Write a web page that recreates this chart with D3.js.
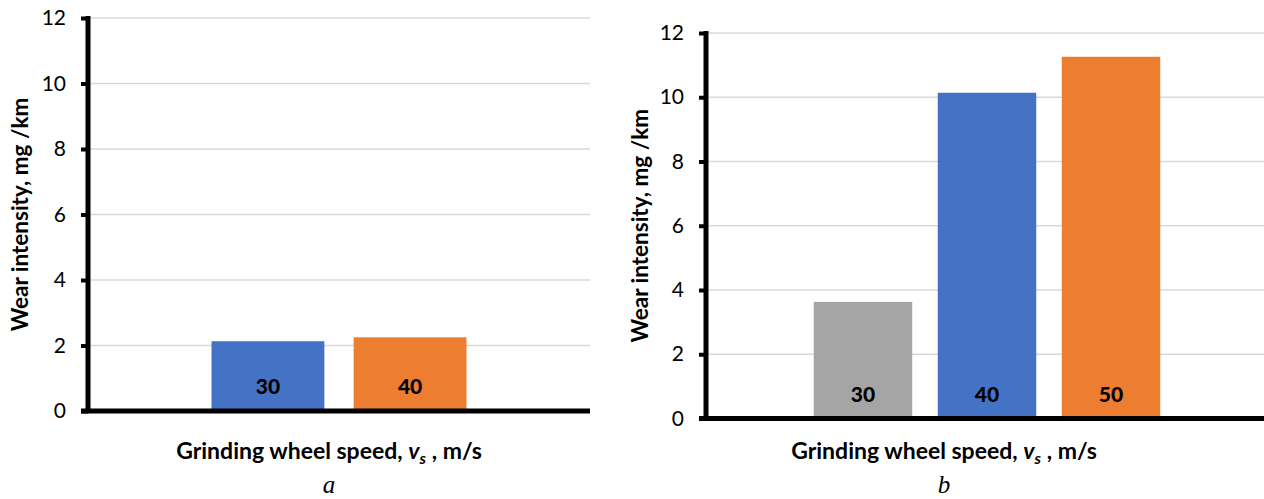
<!DOCTYPE html>
<html><head><meta charset="utf-8">
<script src="https://cdn.jsdelivr.net/npm/d3@7"></script>
<style>body{margin:0;background:#fff}svg{display:block}</style>
</head><body>
<svg id="c" width="1264" height="499"></svg>
<script>
// Data
const categoriesA = ["30", "40"];
const valuesA = [2.13, 2.25];
const colorsA = ["#4472C4", "#ED7D31"];
const categoriesB = ["30", "40", "50"];
const valuesB = [3.63, 10.14, 11.26];
const colorsB = ["#A5A5A5", "#4472C4", "#ED7D31"];
const yTicks = [0, 2, 4, 6, 8, 10, 12];
const yTitle = "Wear intensity, mg /km";
const panelLetters = ["a", "b"];

const svg = d3.select("#c");
const font = "Lato, 'Open Sans', sans-serif";

function panel(cfg) {
  const {cats, vals, cols, left, right, top, bottom, letter, yTitleX, letterX} = cfg;
  const g = svg.append("g");
  const y = d3.scaleLinear().domain([0, 12]).range([bottom, top]);
  const x = d3.scaleBand().domain(cats).range([left, right]).paddingInner(0.206).paddingOuter(0.869);

  // gridlines
  g.append("g").selectAll("line").data(yTicks.filter(d => d > 0)).join("line")
    .attr("x1", left).attr("x2", right)
    .attr("y1", d => y(d)).attr("y2", d => y(d))
    .attr("stroke", "#d9d9d9").attr("stroke-width", 1.6);

  // bars
  g.append("g").selectAll("rect").data(vals).join("rect")
    .attr("x", (d, i) => x(cats[i])).attr("width", x.bandwidth())
    .attr("y", d => y(d)).attr("height", d => y(0) - y(d))
    .attr("fill", (d, i) => cols[i]);

  // value labels (category names inside bars)
  g.append("g").selectAll("text").data(cats).join("text")
    .attr("x", d => x(d) + x.bandwidth() / 2).attr("y", y(0) - 17)
    .attr("text-anchor", "middle")
    .attr("font-family", font).attr("font-weight", 900).attr("font-size", 21)
    .attr("fill", "#000").text(d => d);

  // y axis
  const ax = g.append("g").attr("transform", `translate(${left},0)`)
    .call(d3.axisLeft(y).tickValues(yTicks).tickSize(7).tickPadding(15).tickFormat(d3.format("d")));
  ax.select(".domain").remove();
  ax.selectAll(".tick line").attr("stroke", "#000").attr("stroke-width", 4);
  ax.selectAll(".tick text").attr("font-family", font).attr("font-size", 21).attr("fill", "#000");

  g.append("line").attr("x1", left).attr("x2", left).attr("y1", y(12) - 2).attr("y2", y(0) + 2)
    .attr("stroke", "#000").attr("stroke-width", 5);
  g.append("line").attr("x1", left - 7).attr("x2", right).attr("y1", y(0)).attr("y2", y(0))
    .attr("stroke", "#000").attr("stroke-width", 5);

  // y title
  g.append("text").attr("transform", `translate(${yTitleX},${(y(0) + y(12)) / 2}) rotate(-90)`)
    .attr("text-anchor", "middle").attr("dominant-baseline", "central")
    .attr("font-family", font).attr("font-weight", "bold").attr("font-size", 22.5)
    .attr("fill", "#000").text(yTitle);

  // x title
  const xt = g.append("text").attr("x", letterX).attr("y", cfg.xTitleY)
    .attr("text-anchor", "middle")
    .attr("font-family", font).attr("font-weight", "bold").attr("font-size", 23).attr("fill", "#000");
  xt.append("tspan").text("Grinding wheel speed, ");
  xt.append("tspan").attr("font-style", "italic").text("v");
  xt.append("tspan").attr("font-style", "italic").attr("font-size", 16).attr("dy", 5).text("s");
  xt.append("tspan").attr("dy", -5).text(" , m/s");

  // panel letter
  g.append("text").attr("x", letterX).attr("y", 493).attr("text-anchor", "middle")
    .attr("font-family", "'Liberation Serif', 'Times New Roman', serif").attr("font-style", "italic")
    .attr("font-size", 25).attr("fill", "#000").text(letter);
}

panel({cats: categoriesA, vals: valuesA, cols: colorsA, left: 88, right: 590, top: 18, bottom: 411,
  letter: panelLetters[0], yTitleX: 19, letterX: 329, xTitleY: 459});
panel({cats: categoriesB, vals: valuesB, cols: colorsB, left: 706, right: 1268, top: 33, bottom: 418.5,
  letter: panelLetters[1], yTitleX: 639, letterX: 944, xTitleY: 459});
</script>
</body></html>
